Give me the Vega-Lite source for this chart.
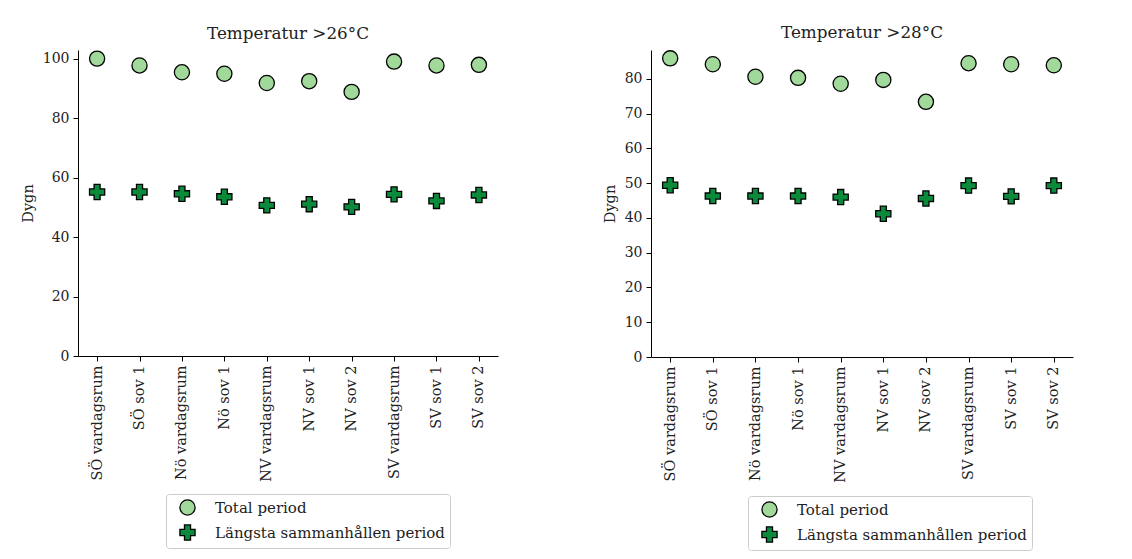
{
  "$schema": "https://vega.github.io/schema/vega-lite/v6.json",
  "background": "white",
  "padding": {"left": 20, "top": 25, "right": 5, "bottom": 5},
  "datasets": {
    "t26": [
      {"rum": "SÖ vardagsrum", "serie": "Total period", "dygn": 100.1},
      {"rum": "SÖ sov 1", "serie": "Total period", "dygn": 97.8},
      {"rum": "Nö vardagsrum", "serie": "Total period", "dygn": 95.5},
      {"rum": "Nö sov 1", "serie": "Total period", "dygn": 95.0},
      {"rum": "NV vardagsrum", "serie": "Total period", "dygn": 91.9},
      {"rum": "NV sov 1", "serie": "Total period", "dygn": 92.5},
      {"rum": "NV sov 2", "serie": "Total period", "dygn": 88.9},
      {"rum": "SV vardagsrum", "serie": "Total period", "dygn": 99.1},
      {"rum": "SV sov 1", "serie": "Total period", "dygn": 97.8},
      {"rum": "SV sov 2", "serie": "Total period", "dygn": 98.0},
      {"rum": "SÖ vardagsrum", "serie": "Längsta sammanhållen period", "dygn": 55.2},
      {"rum": "SÖ sov 1", "serie": "Längsta sammanhållen period", "dygn": 55.2},
      {"rum": "Nö vardagsrum", "serie": "Längsta sammanhållen period", "dygn": 54.6},
      {"rum": "Nö sov 1", "serie": "Längsta sammanhållen period", "dygn": 53.6},
      {"rum": "NV vardagsrum", "serie": "Längsta sammanhållen period", "dygn": 50.7},
      {"rum": "NV sov 1", "serie": "Längsta sammanhållen period", "dygn": 51.1},
      {"rum": "NV sov 2", "serie": "Längsta sammanhållen period", "dygn": 50.2},
      {"rum": "SV vardagsrum", "serie": "Längsta sammanhållen period", "dygn": 54.4},
      {"rum": "SV sov 1", "serie": "Längsta sammanhållen period", "dygn": 52.2},
      {"rum": "SV sov 2", "serie": "Längsta sammanhållen period", "dygn": 54.2}
    ],
    "t28": [
      {"rum": "SÖ vardagsrum", "serie": "Total period", "dygn": 85.9},
      {"rum": "SÖ sov 1", "serie": "Total period", "dygn": 84.2},
      {"rum": "Nö vardagsrum", "serie": "Total period", "dygn": 80.6},
      {"rum": "Nö sov 1", "serie": "Total period", "dygn": 80.3},
      {"rum": "NV vardagsrum", "serie": "Total period", "dygn": 78.6},
      {"rum": "NV sov 1", "serie": "Total period", "dygn": 79.7},
      {"rum": "NV sov 2", "serie": "Total period", "dygn": 73.4},
      {"rum": "SV vardagsrum", "serie": "Total period", "dygn": 84.5},
      {"rum": "SV sov 1", "serie": "Total period", "dygn": 84.2},
      {"rum": "SV sov 2", "serie": "Total period", "dygn": 83.9},
      {"rum": "SÖ vardagsrum", "serie": "Längsta sammanhållen period", "dygn": 49.4},
      {"rum": "SÖ sov 1", "serie": "Längsta sammanhållen period", "dygn": 46.3},
      {"rum": "Nö vardagsrum", "serie": "Längsta sammanhållen period", "dygn": 46.3},
      {"rum": "Nö sov 1", "serie": "Längsta sammanhållen period", "dygn": 46.3},
      {"rum": "NV vardagsrum", "serie": "Längsta sammanhållen period", "dygn": 46.0},
      {"rum": "NV sov 1", "serie": "Längsta sammanhållen period", "dygn": 41.2},
      {"rum": "NV sov 2", "serie": "Längsta sammanhållen period", "dygn": 45.6},
      {"rum": "SV vardagsrum", "serie": "Längsta sammanhållen period", "dygn": 49.3},
      {"rum": "SV sov 1", "serie": "Längsta sammanhållen period", "dygn": 46.2},
      {"rum": "SV sov 2", "serie": "Längsta sammanhållen period", "dygn": 49.3}
    ]
  },
  "spacing": 104,
  "hconcat": [
    {
      "width": 420,
      "height": 306,
      "title": "Temperatur >26°C",
      "data": {"name": "t26"},
      "mark": {"type": "point", "filled": true, "stroke": "black", "strokeWidth": 1.3, "size": 230, "opacity": 1},
      "encoding": {
        "x": {"field": "rum", "type": "nominal", "sort": null, "scale": {"type": "point", "padding": 0.45}, "axis": {"title": null, "labelAngle": -90, "labelFontSize": 14.5}},
        "y": {"field": "dygn", "type": "quantitative", "scale": {"domain": [0, 103], "nice": false}, "axis": {"title": "Dygn", "values": [0, 20, 40, 60, 80, 100]}},
        "color": {"field": "serie", "type": "nominal", "scale": {"domain": ["Total period", "Längsta sammanhållen period"], "range": ["#a1d99b", "#0b8a3b"]}, "legend": {"orient": "none", "legendX": 88, "legendY": 444, "encode": {"symbols": {"update": {"stroke": {"value": "black"}, "strokeWidth": {"value": 1.3}}}}}},
        "shape": {"field": "serie", "type": "nominal", "scale": {"domain": ["Total period", "Längsta sammanhållen period"], "range": ["circle", "cross"]}}
      }
    },
    {
      "width": 422,
      "height": 307,
      "title": "Temperatur >28°C",
      "data": {"name": "t28"},
      "mark": {"type": "point", "filled": true, "stroke": "black", "strokeWidth": 1.3, "size": 230, "opacity": 1},
      "encoding": {
        "x": {"field": "rum", "type": "nominal", "sort": null, "scale": {"type": "point", "padding": 0.45}, "axis": {"title": null, "labelAngle": -90, "labelFontSize": 14.5}},
        "y": {"field": "dygn", "type": "quantitative", "scale": {"domain": [0, 88.3], "nice": false}, "axis": {"title": "Dygn", "values": [0, 10, 20, 30, 40, 50, 60, 70, 80]}},
        "color": {"field": "serie", "type": "nominal", "scale": {"domain": ["Total period", "Längsta sammanhållen period"], "range": ["#a1d99b", "#0b8a3b"]}, "legend": {"orient": "none", "legendX": 97, "legendY": 446, "encode": {"symbols": {"update": {"stroke": {"value": "black"}, "strokeWidth": {"value": 1.3}}}}}},
        "shape": {"field": "serie", "type": "nominal", "scale": {"domain": ["Total period", "Längsta sammanhållen period"], "range": ["circle", "cross"]}}
      }
    }
  ],
  "resolve": {
    "scale": {"y": "independent", "color": "independent", "shape": "independent", "x": "independent"},
    "legend": {"color": "independent", "shape": "independent"}
  },
  "config": {
    "font": "DejaVu Serif",
    "view": {"stroke": null},
    "axis": {
      "grid": false,
      "domainColor": "black",
      "tickColor": "black",
      "labelColor": "#222222",
      "labelFont": "DejaVu Serif",
      "labelFontSize": 14,
      "titleFont": "DejaVu Serif",
      "titleFontSize": 14.5,
      "titleFontWeight": "normal",
      "titleColor": "#222222",
      "tickSize": 5,
      "labelPadding": 4,
      "titlePadding": 7
    },
    "title": {"font": "DejaVu Serif", "fontSize": 16.8, "fontWeight": "normal", "color": "#222222", "frame": "group", "offset": 6},
    "legend": {
      "title": null,
      "padding": 5,
      "strokeColor": "#cccccc",
      "cornerRadius": 3,
      "fillColor": "white",
      "labelFont": "DejaVu Serif",
      "labelFontSize": 15,
      "labelColor": "#222222",
      "labelLimit": 0,
      "symbolSize": 230,
      "symbolOffset": 8,
      "symbolStrokeColor": "black",
      "symbolStrokeWidth": 1.3,
      "symbolOpacity": 1,
      "rowPadding": 4,
      "labelOffset": 19
    }
  }
}
